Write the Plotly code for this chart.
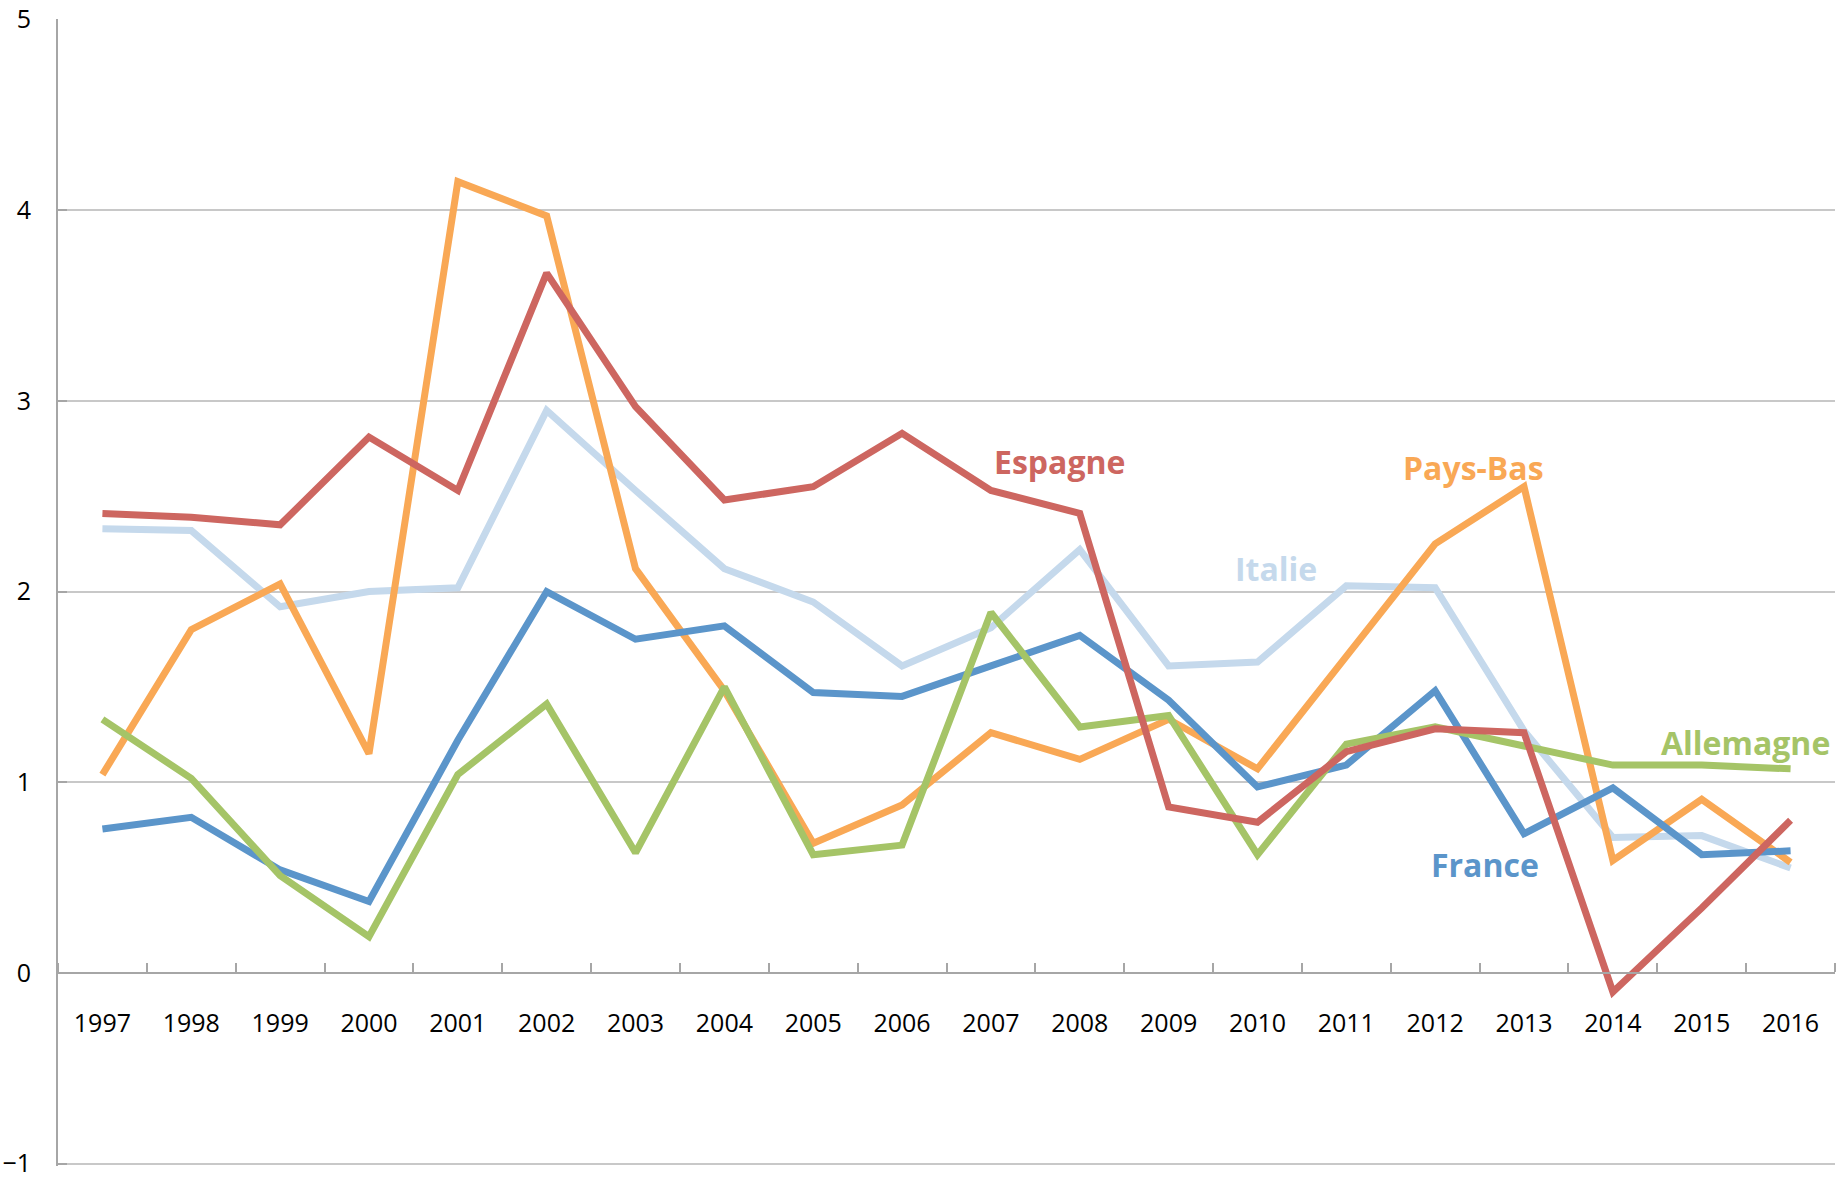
import plotly.graph_objects as go

years = list(range(1997, 2017))

france = [0.755, 0.816, 0.54, 0.374, 1.22, 2.0, 1.75, 1.82, 1.47, 1.45,
          1.61, 1.77, 1.43, 0.975, 1.09, 1.48, 0.73, 0.97, 0.62, 0.64]
espagne = [2.41, 2.39, 2.35, 2.81, 2.53, 3.67, 2.97, 2.48, 2.55, 2.83,
           2.53, 2.41, 0.87, 0.79, 1.16, 1.28, 1.26, -0.10, 0.34, 0.80]
italie = [2.33, 2.32, 1.92, 2.0, 2.02, 2.95, 2.53, 2.12, 1.945, 1.61,
          1.81, 2.22, 1.61, 1.63, 2.03, 2.02, 1.27, 0.71, 0.72, 0.55]
pays_bas = [1.04, 1.80, 2.04, 1.15, 4.15, 3.97, 2.12, 1.48, 0.68, 0.88,
            1.26, 1.12, 1.33, 1.07, 1.66, 2.25, 2.55, 0.59, 0.91, 0.58]
allemagne = [1.33, 1.02, 0.51, 0.19, 1.04, 1.41, 0.63, 1.50, 0.62, 0.67,
             1.89, 1.29, 1.35, 0.62, 1.20, 1.29, 1.19, 1.09, 1.09, 1.07]

y_ticks = [-1, 0, 1, 2, 3, 4, 5]

series = [
    ("Italie", italie, "#C5D9EC"),
    ("Pays-Bas", pays_bas, "#F9A855"),
    ("France", france, "#5B95CA"),
    ("Allemagne", allemagne, "#A5C467"),
    ("Espagne", espagne, "#CD6660"),
]

# label positions (x in years, y in value units, horizontal anchor)
labels = [
    ("Espagne", 2007.77, 2.68, "#CD6660", "center"),
    ("Pays-Bas", 2012.43, 2.65, "#F9A855", "center"),
    ("Italie", 2010.21, 2.12, "#C5D9EC", "center"),
    ("Allemagne", 2016.47, 1.21, "#A5C467", "right"),
    ("France", 2012.56, 0.57, "#5B95CA", "center"),
]

fig = go.Figure()
for name, vals, col in series:
    fig.add_trace(go.Scatter(x=years, y=vals, mode="lines", name=name,
                             line=dict(color=col, width=7),
                             showlegend=False))

for text, x, y, col, anc in labels:
    fig.add_annotation(x=x, y=y, text="<b>%s</b>" % text, showarrow=False,
                       font=dict(family="Open Sans", size=32, color=col),
                       xanchor=anc, yanchor="middle")

ymin, ymax = y_ticks[0], y_ticks[-1]
lo, hi = ymin - 0.013, ymax + 0.003
fig.update_layout(
    width=1836, height=1179,
    margin=dict(l=58, r=1, t=19, b=13),
    paper_bgcolor="white", plot_bgcolor="white",
    font=dict(family="Open Sans", size=25, color="black"),
    xaxis=dict(
        range=[years[0] - 0.5, years[-1] + 0.5],
        tickmode="array", tickvals=years, ticktext=[str(y) for y in years],
        ticks="", showgrid=False, zeroline=False, automargin=False,
        showline=True, linecolor="#A6A6A6", linewidth=2,
        anchor="free", position=(0 - lo) / (hi - lo),
        ticklabelstandoff=28, ticklabeloverflow="allow",
        minor=dict(tickmode="array",
                   tickvals=[y - 0.5 for y in years] + [years[-1] + 0.5],
                   ticks="inside", ticklen=9, tickwidth=2,
                   tickcolor="#A6A6A6", showgrid=False),
    ),
    yaxis=dict(
        range=[lo, hi], tickmode="array", tickvals=y_ticks,
        showgrid=True, gridcolor="#C8C8C8", gridwidth=2,
        zeroline=False, showline=True, linecolor="#A6A6A6", linewidth=2,
        ticks="inside", ticklen=9, tickwidth=2, tickcolor="#A6A6A6",
        ticklabelstandoff=20, automargin=False, ticklabeloverflow="allow",
    ),
)

fig.write_html("out.html", config={"displayModeBar": False},
               post_script="document.body.style.margin='0';"
                           "document.body.style.overflow='hidden';")
